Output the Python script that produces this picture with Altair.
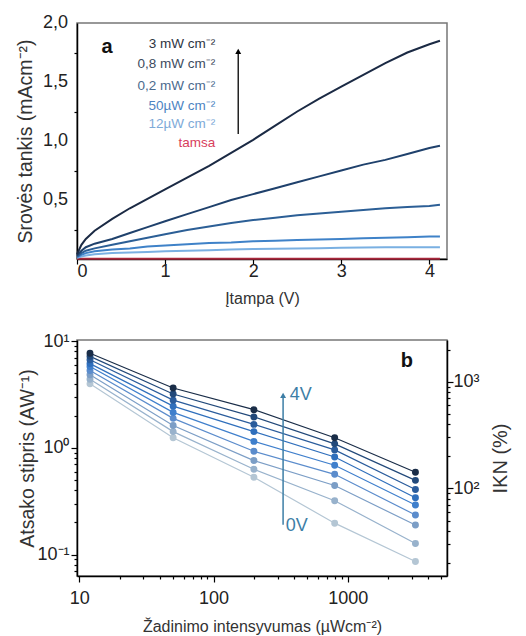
import altair as alt
import pandas as pd

# ---------------- Panel a data ----------------
volts = [0, 0.05, 0.1, 0.2, 0.4, 0.6, 0.8, 1.0, 1.25, 1.5, 1.75, 2.0, 2.25, 2.5, 2.75, 3.0, 3.25, 3.5, 3.75, 4.0, 4.12]
j_3mW = [0.04, 0.12, 0.17, 0.24, 0.34, 0.43, 0.51, 0.59, 0.69, 0.79, 0.90, 1.01, 1.13, 1.25, 1.36, 1.46, 1.56, 1.66, 1.75, 1.82, 1.85]
j_08mW = [0.03, 0.07, 0.10, 0.13, 0.17, 0.22, 0.27, 0.32, 0.38, 0.44, 0.50, 0.55, 0.60, 0.65, 0.70, 0.75, 0.80, 0.84, 0.89, 0.94, 0.96]
j_02mW = [0.02, 0.05, 0.07, 0.09, 0.12, 0.15, 0.18, 0.21, 0.245, 0.275, 0.305, 0.33, 0.35, 0.37, 0.385, 0.40, 0.415, 0.43, 0.44, 0.45, 0.46]
j_50uW = [0.015, 0.035, 0.05, 0.065, 0.08, 0.09, 0.105, 0.115, 0.125, 0.135, 0.14, 0.15, 0.155, 0.16, 0.165, 0.17, 0.175, 0.18, 0.185, 0.19, 0.19]
j_12uW = [0.01, 0.02, 0.03, 0.04, 0.05, 0.055, 0.06, 0.065, 0.07, 0.075, 0.08, 0.085, 0.087, 0.09, 0.092, 0.095, 0.097, 0.1, 0.1, 0.1, 0.1]
j_dark = [0.003] * len(volts)

series_a = ["tamsa", "12µW cm⁻²", "50µW cm⁻²", "0,2 mW cm⁻²", "0,8 mW cm⁻²", "3 mW cm⁻²"]
values_a = [j_dark, j_12uW, j_50uW, j_02mW, j_08mW, j_3mW]
colors_a = ["#a8283c", "#7ab0e2", "#3f82c8", "#2c5f96", "#1f416c", "#1b2a44"]

legend_labels = ["3 mW cm⁻²", "0,8 mW cm⁻²", "0,2 mW cm⁻²", "50µW cm⁻²", "12µW cm⁻²", "tamsa"]
legend_y = [1.82, 1.65, 1.47, 1.30, 1.14, 0.98]
legend_colors = ["#2d3442", "#3d4b60", "#4b6a8e", "#4d84c2", "#7eaad8", "#d8405c"]

ytick_vals_a = [0.5, 1.0, 1.5, 2.0]
ytick_text_a = ["0,5", "1,0", "1,5", "2,0"]

# ---------------- Panel b data ----------------
intensity = [12, 50, 200, 800, 3200]
bias = ["0V", "0,5V", "1V", "1,5V", "2V", "2,5V", "3V", "3,5V", "4V"]
r_0V = [3.98, 1.245, 0.53, 0.197, 0.086]
r_05V = [4.4, 1.42, 0.63, 0.32, 0.127]
r_1V = [4.85, 1.62, 0.76, 0.444, 0.189]
r_15V = [5.3, 1.89, 0.93, 0.565, 0.235]
r_2V = [5.78, 2.15, 1.15, 0.688, 0.292]
r_25V = [6.16, 2.46, 1.42, 0.821, 0.341]
r_3V = [6.7, 2.8, 1.66, 0.957, 0.407]
r_35V = [7.2, 3.2, 1.95, 1.09, 0.496]
r_4V = [7.7, 3.64, 2.28, 1.245, 0.59]
values_b = [r_0V, r_05V, r_1V, r_15V, r_2V, r_25V, r_3V, r_35V, r_4V]
colors_b = ["#b4c6d4", "#98b2cc", "#7c9ec6", "#5b8ccc", "#3f7fcc", "#2f6fbc", "#2a5c9c", "#22497a", "#1a2d48"]

rows_a = []
for i, (name, vals) in enumerate(zip(series_a, values_a)):
    for v, j in zip(volts, vals):
        rows_a.append({"V": v, "J": j, "s": name, "o": i})
df_a = pd.DataFrame(rows_a)

rows_b = []
for i, (name, vals) in enumerate(zip(bias, values_b)):
    for x, r in zip(intensity, vals):
        rows_b.append({"I": x, "R": r, "s": name, "o": i})
df_b = pd.DataFrame(rows_b)

FONT = "Liberation Sans"
AX = dict(domainColor="black", domainWidth=1.5, tickColor="black", tickWidth=1.2,
          labelFont=FONT, labelFontSize=18, labelColor="#222", titleFont=FONT,
          titleFontWeight="normal", titleColor="#333", grid=False, labelOverlap=False)

W, H = 370, 236

# ---------------- Panel a ----------------
xa = alt.X("V:Q", scale=alt.Scale(domain=[0, 4.2], nice=False, zero=False),
           axis=alt.Axis(values=[0, 0.5, 1, 1.5, 2, 2.5, 3, 3.5, 4], format="d",
                         labelExpr="indexof([0, 1, 2, 3, 4], datum.value) >= 0 ? datum.label : ''",
                         tickSize={"condition": {"test": "indexof([0, 1, 2, 3, 4], datum.value) >= 0", "value": 5}, "value": 3},
                         title="Įtampa (V)", titleFontSize=16, titlePadding=10, labelPadding=-2, **AX))
ya = alt.Y("J:Q", scale=alt.Scale(domain=[0, 2.0], nice=False),
           axis=alt.Axis(values=[0.25, 0.5, 0.75, 1, 1.25, 1.5, 1.75, 2], labels=False,
                         tickSize={"condition": {"test": "indexof([0.5, 1, 1.5, 2], datum.value) >= 0", "value": 6}, "value": 3},
                         title="Srovės tankis (mAcm⁻²)", titleFontSize=19.5, titleX=-52, titleY=H / 2,
                         titleAlign="center", titleBaseline="middle", **AX))

lines_a = alt.Chart(df_a).mark_line(strokeWidth=2).encode(
    x=xa, y=ya,
    color=alt.Color("s:N", scale=alt.Scale(domain=series_a, range=colors_a), legend=None),
    order="V:Q", detail="s:N")

ytick_df = pd.DataFrame({"v": ytick_vals_a, "t": ytick_text_a})
yticks_a = alt.Chart(ytick_df).mark_text(align="right", baseline="middle", dx=-9, font=FONT,
                                         fontSize=18, color="#222").encode(
    x=alt.value(0), y="v:Q", text="t:N")

leg_df = pd.DataFrame({"t": legend_labels, "y": legend_y, "c": legend_colors, "x": [1.57] * 6})
legend_a = alt.Chart(leg_df).mark_text(align="right", baseline="middle", font=FONT, fontSize=13.5).encode(
    x="x:Q", y="y:Q", text="t:N", color=alt.Color("c:N", scale=None))

arrow_df = pd.DataFrame({"x": [1.83], "y1": [1.06], "y2": [1.76]})
arrow_a = alt.Chart(arrow_df).mark_rule(color="black", strokeWidth=1.3).encode(x="x:Q", y="y1:Q", y2="y2:Q")
head_a = alt.Chart(arrow_df).mark_point(shape="triangle-up", filled=True, color="black", size=35, opacity=1).encode(
    x="x:Q", y="y2:Q")
lab_a = alt.Chart(pd.DataFrame({"x": [0.34], "y": [1.8], "t": ["a"]})).mark_text(
    font=FONT, fontSize=20, fontWeight="bold", color="#111").encode(x="x:Q", y="y:Q", text="t:N")

panel_a = alt.layer(lines_a, yticks_a, legend_a, arrow_a, head_a, lab_a).properties(width=W, height=H)

# ---------------- Panel b ----------------
x_vals = [10, 20, 30, 40, 50, 60, 70, 80, 90, 100, 200, 300, 400, 500, 600, 700, 800, 900,
          1000, 2000, 3000, 4000, 5000]
xb = alt.X("I:Q", scale=alt.Scale(type="log", domain=[9.6, 5500], nice=False),
           axis=alt.Axis(values=x_vals,
                         labelExpr="datum.value == 10 ? '10' : datum.value == 100 ? '100' : datum.value == 1000 ? '1000' : ''",
                         tickSize={"condition": {"test": "indexof([10, 100, 1000], datum.value) >= 0", "value": 6}, "value": 3},
                         title="Žadinimo intensyvumas (µWcm⁻²)", titleFontSize=16, titlePadding=11, labelPadding=7, **AX))
y_vals = [0.07, 0.08, 0.09, 0.1, 0.2, 0.3, 0.4, 0.5, 0.6, 0.7, 0.8, 0.9, 1, 2, 3, 4, 5, 6, 7, 8, 9, 10]
yb = alt.Y("R:Q", scale=alt.Scale(type="log", domain=[0.063, 10.25], nice=False),
           axis=alt.Axis(values=y_vals,
                         labelExpr="datum.value == 10 ? '10¹' : datum.value == 1 ? '10⁰' : datum.value == 0.1 ? '10⁻¹' : ''",
                         tickSize={"condition": {"test": "indexof([0.1, 1, 10], datum.value) >= 0", "value": 6}, "value": 3},
                         title="Atsako stipris (AW⁻¹)", titleFontSize=19.5, titleX=-50, titleY=H / 2,
                         titleAlign="center", titleBaseline="middle", labelPadding=2, **AX))

col_b = alt.Color("s:N", scale=alt.Scale(domain=bias, range=colors_b), legend=None)
lines_b = alt.Chart(df_b).mark_line(strokeWidth=1.2).encode(x=xb, y=yb, color=col_b, detail="s:N", order="I:Q")
pts_b = alt.Chart(df_b).mark_circle(size=48, opacity=1).encode(x=xb, y=yb, color=col_b, order="o:Q")

arr_df = pd.DataFrame({"x": [330], "y1": [0.19], "y2": [3.1]})
arrow_b = alt.Chart(arr_df).mark_rule(color="#3d7ea6", strokeWidth=1.5).encode(x="x:Q", y="y1:Q", y2="y2:Q")
head_b = alt.Chart(arr_df).mark_point(shape="triangle-up", filled=True, color="#3d7ea6", size=35, opacity=1).encode(
    x="x:Q", y="y2:Q")
txt_df = pd.DataFrame({"x": [370, 345], "y": [3.15, 0.185], "t": ["4V", "0V"]})
txt_b = alt.Chart(txt_df).mark_text(align="left", baseline="middle", font=FONT, fontSize=18, color="#3d7ea6").encode(
    x="x:Q", y="y:Q", text="t:N")
lab_b = alt.Chart(pd.DataFrame({"x": [2760], "y": [6.45], "t": ["b"]})).mark_text(
    font=FONT, fontSize=20, fontWeight="bold", color="#111").encode(x="x:Q", y="y:Q", text="t:N")

left_b = alt.layer(lines_b, pts_b, arrow_b, head_b, txt_b, lab_b)

right_b = alt.Chart(df_b).transform_calculate(ikn="datum.R * 240").mark_point(opacity=0).encode(
    x=alt.X("I:Q", scale=alt.Scale(type="log", domain=[9.6, 5500], nice=False)),
    y=alt.Y("ikn:Q", scale=alt.Scale(type="log", domain=[15.1, 2460], nice=False),
            axis=alt.Axis(orient="right",
                          values=[20, 30, 40, 50, 60, 70, 80, 90, 100, 200, 300, 400, 500, 600, 700, 800, 900, 1000, 2000],
                          labelExpr="datum.value == 1000 ? '10³' : datum.value == 100 ? '10²' : ''",
                          tickSize={"condition": {"test": "indexof([100, 1000], datum.value) >= 0", "value": 6}, "value": 3},
                          title="IKN (%)", titleFontSize=20, titleAngle=270, titleX=53, titleY=H / 2,
                          titleAlign="center", titleBaseline="middle", labelPadding=0, **AX)))

panel_b = alt.layer(left_b, right_b).resolve_scale(y="independent").properties(width=W, height=H)

chart = alt.vconcat(panel_a, panel_b, spacing=24).resolve_scale(color="independent").properties(
    padding={"left": 14, "top": 13, "right": 4, "bottom": 0}
).configure(background="white").configure_view(stroke="#777", strokeWidth=1.5)

chart.save("out.html", embed_options={"renderer": "svg", "actions": False})
